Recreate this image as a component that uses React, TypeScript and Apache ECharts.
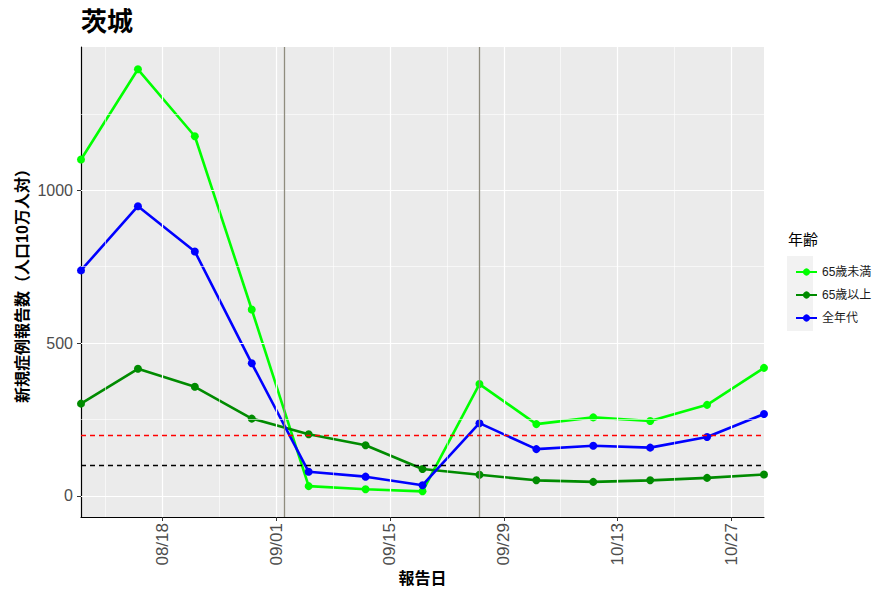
import React, { useEffect, useRef } from "react";
import * as echarts from "echarts";

// ---- data ----
const dates = [
  "2020-08-08", "2020-08-15", "2020-08-22", "2020-08-29", "2020-09-05",
  "2020-09-12", "2020-09-19", "2020-09-26", "2020-10-03", "2020-10-10",
  "2020-10-17", "2020-10-24", "2020-10-31",
];
const under65 = [1101, 1396, 1177, 610, 32, 22, 15, 366, 235, 257, 245, 298, 419];
const over65 = [302, 416, 357, 253, 202, 166, 88, 69, 51, 46, 51, 59, 70];
const allAges = [738, 948, 800, 434, 79, 63, 35, 238, 153, 164, 158, 193, 268];
const seriesNames = ["65歳未満", "65歳以上", "全年代"];
const seriesColors = ["#00FF00", "#008B00", "#0000FF"];

const xTickDates = ["2020-08-18", "2020-09-01", "2020-09-15", "2020-09-29", "2020-10-13", "2020-10-27"];
const xMinorDates = ["2020-08-11", "2020-08-25", "2020-09-08", "2020-09-22", "2020-10-06", "2020-10-20"];
const vLineDates = ["2020-09-02", "2020-09-26"];
const yTicks = [0, 500, 1000];
const yMinor = [250, 750, 1250];
const hLineValues = [200, 100];
const hLineColors = ["#FF0000", "#000000"];

const startDate = dates[0];
const endDate = dates[dates.length - 1];

function dayOf(d: string): number {
  const t = Date.parse(d + "T00:00:00Z");
  const t0 = Date.parse(startDate + "T00:00:00Z");
  return Math.round((t - t0) / 86400000);
}
function fmtDay(v: number): string {
  const t = Date.parse(startDate + "T00:00:00Z") + v * 86400000;
  const dt = new Date(t);
  const mm = String(dt.getUTCMonth() + 1).padStart(2, "0");
  const dd = String(dt.getUTCDate()).padStart(2, "0");
  return mm + "/" + dd;
}

const FONT = "'Liberation Sans', 'Noto Sans CJK JP', sans-serif";

export default function App() {
  const ref = useRef<HTMLDivElement>(null);
  useEffect(() => {
    if (!ref.current) return;
    const chart = echarts.init(ref.current, undefined, { renderer: "svg" });
    const xs = dates.map(dayOf);
    const values = [under65, over65, allAges];

    const gridMarks: any[] = [];
    xTickDates.forEach((d) =>
      gridMarks.push({ xAxis: dayOf(d), lineStyle: { color: "#FFFFFF", width: 1.2, type: "solid" } })
    );
    xMinorDates.forEach((d) =>
      gridMarks.push({ xAxis: dayOf(d), lineStyle: { color: "#FFFFFF", width: 0.6, type: "solid" } })
    );
    yTicks.forEach((v) =>
      gridMarks.push({ yAxis: v, lineStyle: { color: "#FFFFFF", width: 1.2, type: "solid" } })
    );
    yMinor.forEach((v) =>
      gridMarks.push({ yAxis: v, lineStyle: { color: "#FFFFFF", width: 0.6, type: "solid" } })
    );

    const refMarks: any[] = [];
    vLineDates.forEach((d) =>
      refMarks.push({ xAxis: dayOf(d), lineStyle: { color: "#8F8C7E", width: 1.3, type: "solid" } })
    );
    hLineValues.forEach((v, i) =>
      refMarks.push({ yAxis: v, lineStyle: { color: hLineColors[i], width: 1.3, type: [5, 4] } })
    );

    const option: any = {
      animation: false,
      backgroundColor: "#FFFFFF",
      title: {
        text: "茨城",
        left: 81,
        top: 9,
        padding: 0,
        textStyle: { fontSize: 26, fontWeight: "bold", color: "#000000", fontFamily: FONT },
      },
      grid: {
        left: 81, right: 110, top: 47, bottom: 72,
        containLabel: false,
        outerBoundsMode: "none",
        show: true, backgroundColor: "#EBEBEB", borderWidth: 0,
      },
      xAxis: {
        type: "value",
        min: dayOf(startDate),
        max: dayOf(endDate),
        name: "報告日",
        nameLocation: "middle",
        nameGap: 53,
        nameMoveOverlap: false,
        nameTextStyle: { fontSize: 16, fontWeight: "bold", color: "#000000", fontFamily: FONT },
        axisLine: { show: true, onZero: false, lineStyle: { color: "#000000", width: 1.2 } },
        axisTick: { show: true, length: 4, customValues: xTickDates.map(dayOf), lineStyle: { color: "#333333" } },
        axisLabel: {
          customValues: xTickDates.map(dayOf),
          rotate: 90,
          margin: 6,
          fontSize: 17,
          color: "#4D4D4D",
          fontFamily: FONT,
          formatter: (v: number) => fmtDay(v),
        },
        splitLine: { show: false },
      },
      yAxis: {
        type: "value",
        min: -69,
        max: 1469,
        name: "新規症例報告数（人口10万人対）",
        nameLocation: "middle",
        nameGap: 51,
        nameMoveOverlap: false,
        nameTextStyle: { fontSize: 16, fontWeight: "bold", color: "#000000", fontFamily: FONT },
        axisLine: { show: true, onZero: false, lineStyle: { color: "#000000", width: 1.2 } },
        axisTick: { show: true, length: 4, customValues: yTicks, lineStyle: { color: "#333333" } },
        axisLabel: {
          customValues: yTicks,
          margin: 8,
          fontSize: 16,
          color: "#4D4D4D",
          fontFamily: FONT,
          formatter: (v: number) => String(v),
        },
        splitLine: { show: false },
      },
      legend: {
        orient: "vertical",
        left: 790,
        top: 261,
        itemWidth: 21,
        itemHeight: 9,
        itemGap: 11,
        data: seriesNames,
        textStyle: { fontSize: 12, color: "#1A1A1A", fontFamily: FONT },
      },
      graphic: [
        {
          type: "rect",
          left: 787,
          top: 256,
          shape: { width: 26, height: 75 },
          style: { fill: "#F2F2F2" },
          z: 0,
          silent: true,
        },
        {
          type: "text",
          left: 788,
          top: 232,
          style: { text: "年齢", fontSize: 15, fill: "#000000", fontFamily: FONT },
          z: 1,
        },
      ],
      series: [
        {
          name: "__grid",
          type: "line",
          data: [],
          z: 1,
          silent: true,
          markLine: { silent: true, symbol: "none", label: { show: false }, data: gridMarks, animation: false },
        },
        {
          name: "__ref",
          type: "line",
          data: [],
          z: 2,
          silent: true,
          markLine: { silent: true, symbol: "none", label: { show: false }, data: refMarks, animation: false },
        },
        ...seriesNames.map((n, i) => ({
          name: n,
          type: "line",
          data: xs.map((x, j) => [x, values[i][j]]),
          z: 3,
          symbol: "circle",
          symbolSize: 8,
          showSymbol: true,
          lineStyle: { color: seriesColors[i], width: 2.6 },
          itemStyle: { color: seriesColors[i] },
        })),
      ],
    };
    chart.setOption(option);
    return () => chart.dispose();
  }, []);
  return (
    <div
      ref={ref}
      style={{ position: "fixed", left: 0, top: 0, width: 874, height: 589 }}
    />
  );
}
